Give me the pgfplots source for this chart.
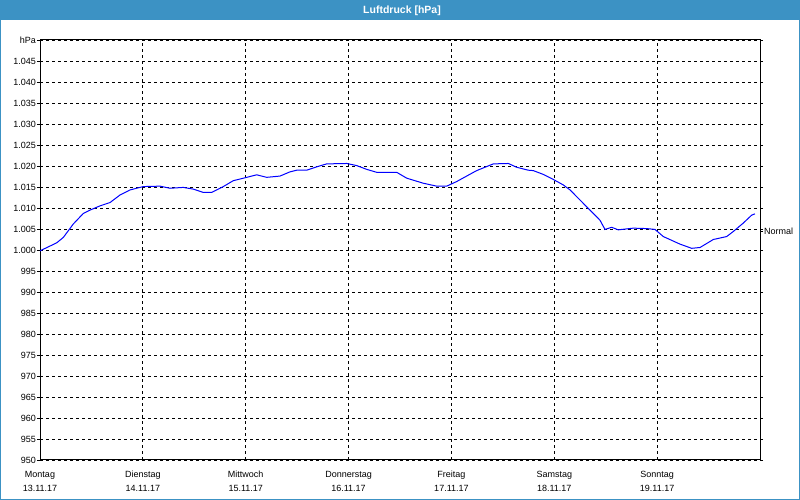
\documentclass[border=0pt]{standalone}
\usepackage{pgfplots}
\pgfplotsset{compat=1.18}
\usepackage{fontspec}
\setmainfont{Liberation Sans}
\definecolor{barblue}{RGB}{60,146,196}
\definecolor{lineblue}{RGB}{0,0,255}
\pgfplotstableread{
d p
0.000 999.8
0.162 1001.7
0.227 1003.0
0.324 1006.2
0.421 1008.7
0.486 1009.5
0.583 1010.5
0.681 1011.3
0.778 1013.1
0.875 1014.3
1.004 1015.1
1.167 1015.2
1.264 1014.7
1.393 1014.9
1.490 1014.5
1.588 1013.7
1.669 1013.7
1.782 1015.1
1.879 1016.5
2.010 1017.3
2.107 1017.9
2.204 1017.3
2.333 1017.6
2.430 1018.6
2.496 1019.0
2.593 1019.0
2.690 1019.8
2.787 1020.5
2.982 1020.6
3.079 1020.1
3.176 1019.2
3.273 1018.5
3.468 1018.5
3.565 1017.1
3.726 1015.9
3.857 1015.2
3.954 1015.2
4.051 1016.3
4.245 1018.9
4.407 1020.5
4.553 1020.6
4.634 1019.7
4.747 1019.0
4.796 1018.9
4.893 1018.0
4.990 1016.8
5.087 1015.5
5.153 1014.3
5.250 1011.9
5.347 1009.5
5.444 1007.1
5.493 1004.9
5.558 1005.4
5.622 1004.8
5.768 1005.2
5.898 1005.1
5.979 1004.9
6.060 1003.2
6.222 1001.4
6.336 1000.4
6.417 1000.6
6.546 1002.5
6.676 1003.2
6.740 1004.4
6.837 1006.4
6.919 1008.3
6.951 1008.6
}\pressure
\begin{document}
\begin{tikzpicture}[x=1pt,y=1pt]
\useasboundingbox (0,0) rectangle (800,500);
\fill[white] (0,0) rectangle (800,500);
\fill[barblue] (0,479.5) rectangle (800,500);
\draw[barblue,line width=1.2pt] (0.6,0.6) rectangle (799.4,499.4);
\node[white,font=\bfseries\fontsize{10.5}{12}\selectfont] at (402,489.5) {Luftdruck [hPa]};
\begin{axis}[
  at={(40pt,40pt)}, anchor=south west,
  scale only axis, width=720pt, height=420pt,
  xmin=0, xmax=7, ymin=950, ymax=1050,
  xtick={0,1,2,3,4,5,6},
  xticklabels={{Montag\\[1pt]13.11.17},{Dienstag\\[1pt]14.11.17},{Mittwoch\\[1pt]15.11.17},{Donnerstag\\[1pt]16.11.17},{Freitag\\[1pt]17.11.17},{Samstag\\[1pt]18.11.17},{Sonntag\\[1pt]19.11.17}},
  ytick={950,955,...,1050},
  yticklabels={950,955,960,965,970,975,980,985,990,995,1.000,1.005,1.010,1.015,1.020,1.025,1.030,1.035,1.040,1.045,hPa},
  /pgf/number format/assume math mode=true,
  tick align=outside, major tick length=3pt,
  tick style={black, line width=0.8pt},
  xtick style={draw=none},
  xticklabel style={align=center, font=\fontsize{9}{13}\selectfont, inner sep=1pt, yshift=-7pt},
  yticklabel style={font=\fontsize{9}{10}\selectfont, inner sep=1pt},
  axis line style={black, line width=1pt},
  grid=major,
  major grid style={black, line width=0.8pt, dash pattern=on 3pt off 3pt},
  clip=false,
]
\addplot[lineblue, line width=1pt] table[x=d,y=p] {\pressure};
\end{axis}
\begin{axis}[
  at={(40pt,40pt)}, anchor=south west,
  scale only axis, width=720pt, height=420pt,
  xmin=0, xmax=7, ymin=950, ymax=1050,
  axis x line=none, axis y line*=right,
  ytick={1004.5}, yticklabels={Normal},
  tick align=outside, major tick length=3pt,
  tick style={black, line width=0.8pt},
  yticklabel style={font=\fontsize{9}{10}\selectfont, inner sep=1pt},
  axis line style={black, line width=1pt},
]
\end{axis}
\end{tikzpicture}
\end{document}
